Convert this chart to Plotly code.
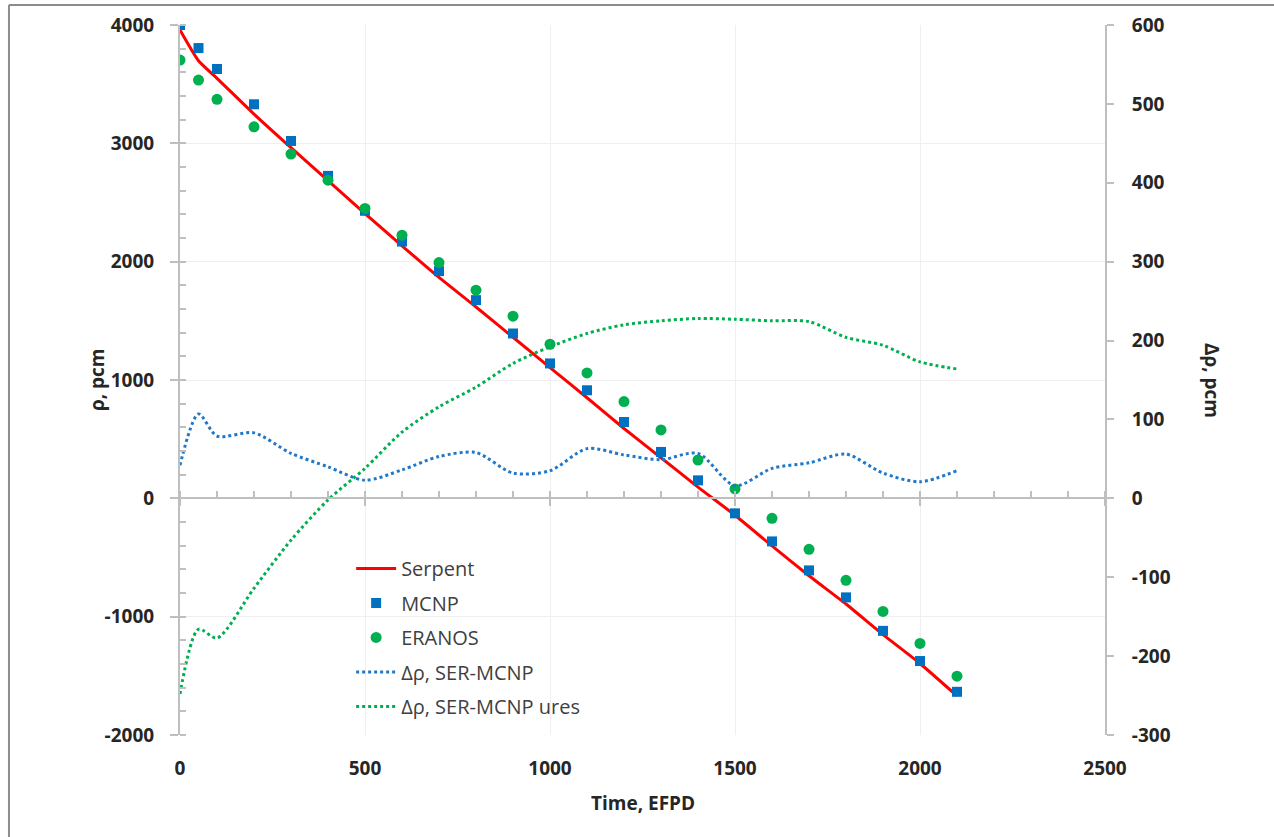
import plotly.graph_objects as go

# Burnup time points (EFPD)
time_efpd = [0, 50, 100, 200, 300, 400, 500, 600, 700, 800, 900, 1000,
             1100, 1200, 1300, 1400, 1500, 1600, 1700, 1800, 1900, 2000, 2100]

# Reactivity, pcm
rho_serpent = [3958, 3698, 3549, 3247, 2963, 2685, 2407, 2134, 1867, 1617, 1361, 1105,
               850, 590, 343, 95, -143, -402, -654, -893, -1152, -1396, -1670]
rho_mcnp = [4000, 3805, 3628, 3330, 3020, 2725, 2430, 2170, 1920, 1675, 1393, 1140,
            913, 645, 392, 152, -127, -364, -609, -837, -1120, -1375, -1635]
rho_eranos = [3704, 3535, 3372, 3140, 2909, 2689, 2450, 2224, 1992, 1759, 1539, 1302,
              1060, 818, 578, 324, 79, -169, -431, -693, -956, -1226, -1503]

# Reactivity differences, pcm (secondary axis)
d_rho_ser_mcnp = [42, 107, 79, 83, 57, 40, 23, 36, 53, 58, 32, 35,
                  63, 55, 49, 57, 16, 38, 45, 56, 32, 21, 35]
d_rho_ser_mcnp_ures = [-248, -166, -177, -114, -53, -2, 38, 84, 116, 141, 171, 192,
                       209, 220, 225, 228, 227, 225, 224, 204, 194, 173, 164]

# Axis tick labels (plain hyphen for negatives)
rho_ticks = [-2000, -1000, 0, 1000, 2000, 3000, 4000]
rho_ticktext = ["-2000", "-1000", "0", "1000", "2000", "3000", "4000"]
drho_ticks = [-300, -200, -100, 0, 100, 200, 300, 400, 500, 600]
drho_ticktext = ["-300", "-200", "-100", "0", "100", "200", "300", "400", "500", "600"]
time_ticks = [0, 500, 1000, 1500, 2000, 2500]
time_ticktext = ["0", "500", "1000", "1500", "2000", "2500"]

FONT = "Open Sans"
AXIS_GREY = "#bfbfbf"
GRID_GREY = "#efefef"
TEXT = "#262626"
LEGEND_TEXT = "#404040"

fig = go.Figure()

fig.add_trace(go.Scatter(
    x=time_efpd, y=rho_serpent, name="Serpent", mode="lines",
    line=dict(color="#ff0000", width=3, shape="spline", smoothing=0.5),
    legendgroup="g1"))
fig.add_trace(go.Scatter(
    x=time_efpd, y=rho_mcnp, name="MCNP", mode="markers",
    marker=dict(symbol="square", size=10, color="#0070c0"),
    legendgroup="g2"))
fig.add_trace(go.Scatter(
    x=time_efpd, y=rho_eranos, name="ERANOS", mode="markers",
    marker=dict(symbol="circle", size=11, color="#00b050"),
    legendgroup="g3"))
fig.add_trace(go.Scatter(
    x=time_efpd, y=d_rho_ser_mcnp, name="Δρ, SER-MCNP", mode="lines",
    line=dict(color="#1f78c8", width=3, dash="dot", shape="spline", smoothing=0.8),
    yaxis="y2", legendgroup="g4"))
fig.add_trace(go.Scatter(
    x=time_efpd, y=d_rho_ser_mcnp_ures, name="Δρ, SER-MCNP ures", mode="lines",
    line=dict(color="#00b050", width=3, dash="dot", shape="spline", smoothing=0.8),
    yaxis="y2", legendgroup="g5"))
# carrier for the x axis line drawn through zero
fig.add_trace(go.Scatter(x=[], y=[], xaxis="x2", yaxis="y", showlegend=False,
                         hoverinfo="skip"))

tick_font = dict(family=FONT, size=19, color=TEXT, weight="bold")
title_font = dict(family=FONT, size=19, color=TEXT, weight="bold")

fig.update_layout(
    width=1274, height=837,
    margin=dict(l=180, r=169, t=25, b=102),
    paper_bgcolor="white", plot_bgcolor="white",
    font=dict(family=FONT, color=TEXT),
    showlegend=True,
    legend=dict(x=0.185, y=0.262, xanchor="left", yanchor="top",
                bgcolor="rgba(0,0,0,0)", tracegroupgap=5.5, itemwidth=40,
                font=dict(family=FONT, size=20, color=LEGEND_TEXT)),
    xaxis=dict(range=[0, 2500], tickmode="array", tickvals=time_ticks,
               ticktext=time_ticktext,
               showgrid=True, gridcolor=GRID_GREY, gridwidth=1,
               showline=False, zeroline=False, ticks="",
               tickfont=tick_font, ticklabelstandoff=20),
    xaxis2=dict(overlaying="x", anchor="free", position=1/3,
                range=[0, 2500], dtick=500, tick0=0,
                showgrid=False, zeroline=False, showticklabels=False,
                showline=True, linecolor=AXIS_GREY, linewidth=2,
                ticks="outside", ticklen=7, tickwidth=2, tickcolor=AXIS_GREY,
                minor=dict(dtick=100, ticks="inside", ticklen=6,
                           tickwidth=2, tickcolor=AXIS_GREY, showgrid=False)),
    yaxis=dict(range=[-2000, 4000], tickmode="array", tickvals=rho_ticks,
               ticktext=rho_ticktext,
               showgrid=True, gridcolor=GRID_GREY, gridwidth=1,
               zeroline=False, showline=True, linecolor=AXIS_GREY, linewidth=2,
               ticks="outside", ticklen=8, tickwidth=2, tickcolor=AXIS_GREY,
               minor=dict(dtick=200, tick0=0, ticks="inside", ticklen=6,
                          tickwidth=2, tickcolor=AXIS_GREY, showgrid=False),
               tickfont=tick_font, ticklabelstandoff=12),
    yaxis2=dict(overlaying="y", side="right", anchor="x",
                range=[-300, 600], tickmode="array", tickvals=drho_ticks,
                ticktext=drho_ticktext,
                showgrid=False, zeroline=False,
                showline=True, linecolor=AXIS_GREY, linewidth=2,
                ticks="outside", ticklen=7, tickwidth=2, tickcolor=AXIS_GREY,
                tickfont=tick_font, ticklabelstandoff=14),
    annotations=[
        dict(text="ρ, pcm", xref="paper", yref="paper", x=-0.0897, y=0.5,
             xanchor="center", yanchor="middle",
             textangle=-90, showarrow=False, font=title_font),
        dict(text="Δρ, pcm", xref="paper", yref="paper", x=1.1157, y=0.5,
             xanchor="center", yanchor="middle",
             textangle=90, showarrow=False, font=title_font),
        dict(text="Time, EFPD", xref="paper", yref="paper", x=0.5, y=-0.0958,
             xanchor="center", yanchor="middle",
             showarrow=False, font=title_font),
    ],
    shapes=[
        dict(type="line", xref="paper", yref="paper",
             x0=-0.1849, y0=1.028, x1=1.2, y1=1.028,
             line=dict(color="#8c8c8c", width=2)),
        dict(type="line", xref="paper", yref="paper",
             x0=-0.1849, y0=1.028, x1=-0.1849, y1=-0.2,
             line=dict(color="#8c8c8c", width=2)),
    ],
)

fig.write_html("out.html")
